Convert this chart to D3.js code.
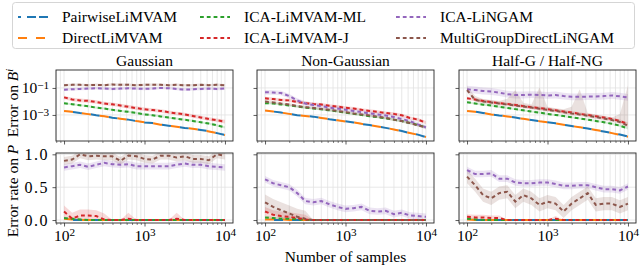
<!DOCTYPE html>
<html>
<head>
<meta charset="utf-8">
<script src="https://cdn.jsdelivr.net/npm/d3@7"></script>
<style>
	body { margin: 0; background: #ffffff; }
	text { font-family: "Liberation Serif", "DejaVu Serif", serif; fill: #000; }
</style>
</head>
<body>
<div id="chart"></div>
<script>
//Data

// x axis: number of samples (shared by every panel)
const samples = [100, 126, 158, 200, 251, 316, 398, 501, 631, 794, 1000, 1259, 1585, 1995, 2512, 3162, 3981, 5012, 6310, 7943, 10000]
const methods = ["PairwiseLiMVAM", "DirectLiMVAM", "ICA-LiMVAM-ML", "ICA-LiMVAM-J", "ICA-LiNGAM", "MultiGroupDirectLiNGAM"]
const settings = ["Gaussian", "Non-Gaussian", "Half-G / Half-NG"]
const xTicks = [100, 1000, 10000]
const xTickExp = ["2", "3", "4"]
const yTicksB = [1e-1, 1e-3]
const yTickExpB = ["\u22121", "\u22123"]
const yTicksP = [0, 0.5, 1]
const yTickLabelsP = ["0.0", "0.5", "1.0"]

// Error on B^i, Gaussian
const gaussB_Pairwise = [2.1e-3, 1.7e-3, 1.4e-3, 1.2e-3, 9.5e-4, 7.9e-4, 6.3e-4, 5.2e-4, 4.5e-4, 3.5e-4, 2.8e-4, 2.5e-4, 1.9e-4, 1.6e-4, 1.35e-4, 1.1e-4, 9.3e-5, 7.6e-5, 6.3e-5, 4.5e-5, 3.3e-5]
const gaussB_Direct = [2.0e-3, 1.7e-3, 1.4e-3, 1.15e-3, 9.5e-4, 8.0e-4, 6.3e-4, 5.3e-4, 4.4e-4, 3.5e-4, 2.9e-4, 2.5e-4, 1.9e-4, 1.6e-4, 1.35e-4, 1.1e-4, 9.5e-5, 7.5e-5, 6.0e-5, 4.6e-5, 3.2e-5]
const gaussB_ML = [7.4e-3, 6.2e-3, 5.2e-3, 4.4e-3, 3.5e-3, 3.0e-3, 2.4e-3, 2.0e-3, 1.7e-3, 1.4e-3, 1.1e-3, 9.5e-4, 7.8e-4, 6.4e-4, 5.3e-4, 4.4e-4, 3.6e-4, 2.9e-4, 2.3e-4, 1.7e-4, 1.2e-4]
const gaussB_J = [2.0e-2, 1.4e-2, 1.2e-2, 1.1e-2, 9.0e-3, 7.0e-3, 6.2e-3, 5.0e-3, 4.0e-3, 3.2e-3, 2.6e-3, 2.3e-3, 2.0e-3, 1.6e-3, 1.3e-3, 1.1e-3, 8.5e-4, 6.5e-4, 5.0e-4, 4.0e-4, 3.2e-4]
const gaussB_LiNGAM = [0.075, 0.08, 0.085, 0.09, 0.095, 0.09, 0.085, 0.09, 0.095, 0.09, 0.085, 0.09, 0.1, 0.095, 0.085, 0.075, 0.08, 0.085, 0.09, 0.085, 0.09]
const gaussB_MultiGroup = [0.16, 0.17, 0.17, 0.16, 0.17, 0.16, 0.18, 0.17, 0.17, 0.16, 0.17, 0.17, 0.17, 0.16, 0.17, 0.16, 0.16, 0.17, 0.16, 0.17, 0.16]

// Error on B^i, Non-Gaussian
const nongaussB_Pairwise = [2.1e-3, 1.8e-3, 1.5e-3, 1.2e-3, 9.5e-4, 8.5e-4, 7.5e-4, 6.0e-4, 4.8e-4, 4.0e-4, 3.4e-4, 2.8e-4, 2.1e-4, 1.8e-4, 1.4e-4, 1.1e-4, 8.5e-5, 6.5e-5, 4.5e-5, 3.5e-5, 2.3e-5]
const nongaussB_Direct = [2.1e-3, 1.8e-3, 1.5e-3, 1.2e-3, 9.8e-4, 8.5e-4, 7.3e-4, 6.0e-4, 4.9e-4, 4.0e-4, 3.3e-4, 2.8e-4, 2.2e-4, 1.8e-4, 1.4e-4, 1.1e-4, 8.5e-5, 6.3e-5, 4.6e-5, 3.4e-5, 2.3e-5]
const nongaussB_ML = [7.5e-3, 7.0e-3, 6.0e-3, 5.0e-3, 4.2e-3, 3.5e-3, 3.0e-3, 2.6e-3, 2.2e-3, 1.8e-3, 1.5e-3, 1.2e-3, 1.0e-3, 8.0e-4, 6.8e-4, 5.5e-4, 4.5e-4, 3.5e-4, 2.5e-4, 1.8e-4, 1.2e-4]
const nongaussB_J = [1.7e-2, 1.5e-2, 1.3e-2, 1.2e-2, 9.0e-3, 7.5e-3, 6.5e-3, 6.0e-3, 4.8e-3, 4.2e-3, 3.4e-3, 3.0e-3, 2.4e-3, 2.0e-3, 1.7e-3, 1.4e-3, 1.2e-3, 9.5e-4, 6.0e-4, 4.5e-4, 2.7e-4]
const nongaussB_LiNGAM = [4.8e-2, 4.6e-2, 4.2e-2, 2.5e-2, 1.2e-2, 7.0e-3, 5.5e-3, 4.5e-3, 3.5e-3, 3.0e-3, 2.4e-3, 2.0e-3, 1.6e-3, 1.3e-3, 1.1e-3, 9.0e-4, 7.0e-4, 5.0e-4, 3.5e-4, 2.0e-4, 1.2e-4]
const nongaussB_MultiGroup = [9.8e-3, 8.5e-3, 7.0e-3, 6.0e-3, 4.5e-3, 3.8e-3, 3.3e-3, 2.8e-3, 2.4e-3, 2.0e-3, 1.6e-3, 1.3e-3, 1.1e-3, 9.0e-4, 7.5e-4, 6.0e-4, 4.5e-4, 3.5e-4, 2.5e-4, 1.7e-4, 1.2e-4]

// Error on B^i, Half-G / Half-NG
const halfB_Pairwise = [2.0e-3, 1.8e-3, 1.4e-3, 1.1e-3, 9.0e-4, 8.0e-4, 6.5e-4, 5.0e-4, 4.2e-4, 3.5e-4, 2.9e-4, 2.4e-4, 1.9e-4, 1.5e-4, 1.2e-4, 1.0e-4, 7.5e-5, 6.0e-5, 4.5e-5, 3.5e-5, 2.5e-5]
const halfB_Direct = [2.0e-3, 1.7e-3, 1.4e-3, 1.1e-3, 9.2e-4, 7.8e-4, 6.3e-4, 5.2e-4, 4.2e-4, 3.4e-4, 2.9e-4, 2.4e-4, 1.9e-4, 1.5e-4, 1.25e-4, 9.8e-5, 7.8e-5, 6.0e-5, 4.5e-5, 3.4e-5, 2.4e-5]
const halfB_ML = [8.7e-3, 7.0e-3, 5.8e-3, 5.0e-3, 4.0e-3, 3.3e-3, 2.7e-3, 2.2e-3, 1.8e-3, 1.5e-3, 1.2e-3, 1.0e-3, 8.2e-4, 6.8e-4, 5.5e-4, 4.5e-4, 3.6e-4, 2.9e-4, 2.2e-4, 1.6e-4, 1.0e-4]
const halfB_J = [1.7e-2, 1.4e-2, 1.1e-2, 9.0e-3, 7.5e-3, 6.5e-3, 5.5e-3, 4.5e-3, 3.8e-3, 3.2e-3, 2.7e-3, 2.2e-3, 1.8e-3, 1.5e-3, 1.2e-3, 1.0e-3, 8.0e-4, 6.5e-4, 5.0e-4, 3.5e-4, 2.1e-4]
const halfB_LiNGAM = [8.0e-2, 7.0e-2, 6.0e-2, 5.5e-2, 4.5e-2, 3.5e-2, 3.0e-2, 3.0e-2, 3.2e-2, 3.0e-2, 2.8e-2, 3.0e-2, 2.5e-2, 2.2e-2, 2.2e-2, 2.3e-2, 2.3e-2, 2.5e-2, 2.8e-2, 2.4e-2, 2.0e-2]
const halfB_MultiGroup = [7.0e-2, 1.3e-2, 1.0e-2, 8.5e-3, 7.0e-3, 6.0e-3, 5.0e-3, 4.2e-3, 3.5e-3, 2.9e-3, 2.4e-3, 2.0e-3, 1.6e-3, 1.3e-3, 1.1e-3, 8.8e-4, 7.0e-4, 5.5e-4, 4.2e-4, 3.0e-4, 1.6e-4]
// upper edge of the MultiGroup band in Half-G (it has a few big spikes)
const halfB_MultiGroupHigh = [1.3e-1, 2.5e-2, 1.5e-2, 1.3e-2, 1.1e-2, 1.6e-2, 7.0e-2, 8.0e-3, 6.0e-3, 1.1e-1, 4.0e-3, 3.2e-3, 2.6e-3, 4.0e-3, 8.0e-2, 1.4e-3, 1.1e-3, 8.5e-4, 6.5e-4, 1.2e-3, 1.5e-1]

// Error rate on P, Gaussian
const gaussP_Pairwise = [0, 0, 0, 0, 0, 0, 0, 0, 0, 0, 0, 0, 0, 0, 0, 0, 0, 0, 0, 0, 0]
const gaussP_Direct = [0.02, 0.01, 0, 0, 0, 0, 0, 0, 0, 0, 0, 0, 0, 0, 0, 0, 0, 0, 0, 0, 0]
const gaussP_ML = [0.03, 0.02, 0.01, 0, 0, 0, 0, 0, 0, 0, 0, 0, 0, 0, 0, 0, 0, 0, 0, 0, 0]
const gaussP_J = [0.13, 0.02, 0.07, 0.07, 0.06, 0.01, 0, 0, 0.02, 0, 0, 0, 0, 0, 0.02, 0, 0, 0, 0, 0, 0]
const gaussP_LiNGAM = [0.8, 0.82, 0.84, 0.81, 0.84, 0.87, 0.85, 0.84, 0.85, 0.82, 0.82, 0.82, 0.82, 0.82, 0.84, 0.86, 0.84, 0.84, 0.82, 0.81, 0.8]
const gaussP_MultiGroup = [0.9, 0.92, 1.0, 0.97, 0.98, 0.97, 0.97, 0.9, 0.98, 0.97, 0.93, 0.92, 0.98, 0.98, 0.95, 0.97, 0.93, 0.93, 0.91, 1.0, 0.98]

// Error rate on P, Non-Gaussian
const nongaussP_Pairwise = [0, 0, 0, 0, 0, 0, 0, 0, 0, 0, 0, 0, 0, 0, 0, 0, 0, 0, 0, 0, 0]
const nongaussP_Direct = [0.01, 0.01, 0.01, 0, 0, 0, 0, 0, 0, 0, 0, 0, 0, 0, 0, 0, 0, 0, 0, 0, 0]
const nongaussP_ML = [0.04, 0.03, 0.02, 0.02, 0.01, 0, 0, 0, 0, 0, 0, 0, 0, 0, 0, 0, 0, 0, 0, 0, 0]
const nongaussP_J = [0.13, 0.08, 0.06, 0.05, 0.03, 0.01, 0, 0, 0, 0, 0, 0, 0, 0, 0, 0, 0, 0, 0, 0, 0]
const nongaussP_LiNGAM = [0.62, 0.56, 0.53, 0.5, 0.41, 0.29, 0.27, 0.29, 0.24, 0.2, 0.17, 0.18, 0.2, 0.14, 0.13, 0.14, 0.09, 0.11, 0.07, 0.06, 0.05]
const nongaussP_MultiGroup = [0.27, 0.2, 0.15, 0.1, 0.05, 0.02, 0, 0, 0, 0, 0, 0, 0, 0, 0, 0, 0, 0, 0, 0, 0]

// Error rate on P, Half-G / Half-NG
const halfP_Pairwise = [0, 0, 0, 0, 0, 0, 0, 0, 0, 0, 0, 0, 0, 0, 0, 0, 0, 0, 0, 0, 0]
const halfP_Direct = [0.01, 0, 0, 0, 0, 0, 0, 0, 0, 0, 0, 0, 0, 0, 0, 0, 0, 0, 0, 0, 0]
const halfP_ML = [0.02, 0.01, 0, 0, 0, 0, 0, 0, 0, 0, 0, 0, 0, 0, 0, 0, 0, 0, 0, 0, 0]
const halfP_J = [0.05, 0.04, 0.04, 0.03, 0.03, 0, 0, 0, 0, 0, 0, 0.02, 0, 0, 0, 0, 0, 0, 0, 0, 0]
const halfP_LiNGAM = [0.76, 0.7, 0.7, 0.71, 0.63, 0.63, 0.57, 0.56, 0.56, 0.57, 0.57, 0.55, 0.52, 0.52, 0.53, 0.53, 0.5, 0.47, 0.47, 0.45, 0.51]
const halfP_MultiGroup = [0.66, 0.53, 0.38, 0.33, 0.41, 0.43, 0.28, 0.38, 0.33, 0.23, 0.28, 0.25, 0.13, 0.25, 0.33, 0.41, 0.23, 0.25, 0.25, 0.2, 0.25]

// spread of the shaded bands (factor on the log rows, +/- on the P rows), one per method
const spreadB_gauss = [1.1, 1.1, 1.2, 1.35, 1.25, 1.25]
const spreadB_nongauss = [1.1, 1.1, 1.2, 1.3, 1.45, 1.25]
const spreadB_half = [1.1, 1.1, 1.2, 1.3, 1.8, 1.4]
const spreadP_gauss = [0, 0.01, 0.02, 0.09, 0.05, 0.06]
const spreadP_nongauss = [0, 0.01, 0.02, 0.07, 0.05, 0.12]
const spreadP_half = [0, 0, 0.02, 0.04, 0.05, 0.1]


// Represents the global variable for the chart
let store = {}

/**
 * Sets up the sizes, scales domains and line styles
 */
function makeConfig(store) {
	store.dimensions = {
		width: 640,
		height: 265,
		cols: [56, 257, 459],
		rows: [70, 153],
		panelWidth: 177,
		panelHeight: [71, 70]
	}
	store.xDomain = [Math.pow(10, 1.9), Math.pow(10, 4.1)]
	store.bDomain = [Math.pow(10, -4.93), Math.pow(10, 0.33)]
	store.pDomain = [-0.045, 1.02]
	store.colors = ['#1f77b4', '#ff7f0e', '#2ca02c', '#d62728', '#9467bd', '#8c564b']
	store.dashes = ['9,9', '9,9', '3.8,3', '3.8,3', '3.8,3', '3.8,3']
	store.dashOffsets = [9, 0, 0, 0, 0, 0]
	store.tables = {
		B: [
			[gaussB_Pairwise, gaussB_Direct, gaussB_ML, gaussB_J, gaussB_LiNGAM, gaussB_MultiGroup],
			[nongaussB_Pairwise, nongaussB_Direct, nongaussB_ML, nongaussB_J, nongaussB_LiNGAM, nongaussB_MultiGroup],
			[halfB_Pairwise, halfB_Direct, halfB_ML, halfB_J, halfB_LiNGAM, halfB_MultiGroup]
		],
		P: [
			[gaussP_Pairwise, gaussP_Direct, gaussP_ML, gaussP_J, gaussP_LiNGAM, gaussP_MultiGroup],
			[nongaussP_Pairwise, nongaussP_Direct, nongaussP_ML, nongaussP_J, nongaussP_LiNGAM, nongaussP_MultiGroup],
			[halfP_Pairwise, halfP_Direct, halfP_ML, halfP_J, halfP_LiNGAM, halfP_MultiGroup]
		],
		spreadB: [spreadB_gauss, spreadB_nongauss, spreadB_half],
		spreadP: [spreadP_gauss, spreadP_nongauss, spreadP_half]
	}
	return store
}

/**
 * Writes "base^exp" into a text element with a raised tspan
 */
function powerLabel(text, base, exp) {
	text.text(null)
	text.append('tspan').text(base)
	text.append('tspan')
		.attr('dy', '-0.42em')
		.attr('font-size', '0.72em')
		.text(exp)
}

/**
 * Builds the points of one series, with the low and high edge of its band
 */
function seriesPoints(row, col, m) {
	const values = row === 0 ? store.tables.B[col][m] : store.tables.P[col][m]
	return samples.map((s, i) => {
		const v = values[i]
		if (row === 0) {
			const f = store.tables.spreadB[col][m]
			let hi = v * f
			if (col === 2 && m === 5) hi = halfB_MultiGroupHigh[i]
			return { s: s, v: v, lo: v / f, hi: hi }
		}
		const w = v > 0 ? store.tables.spreadP[col][m] : 0
		return { s: s, v: v, lo: Math.max(0, v - w), hi: v + w }
	})
}

/**
 * Draws one panel of the grid
 */
function makePanel(svg, row, col) {
	const dims = store.dimensions
	const left = dims.cols[col]
	const top = dims.rows[row]
	const w = dims.panelWidth
	const h = dims.panelHeight[row]

	const xScale = d3.scaleLog()
		.domain(store.xDomain)
		.range([left, left + w])
	const yScale = row === 0
		? d3.scaleLog().domain(store.bDomain).range([top + h, top])
		: d3.scaleLinear().domain(store.pDomain).range([top + h, top])
	const yTicks = row === 0 ? yTicksB : yTicksP

	const panel = svg.append('g')

	// Clip for bands and lines
	const clipId = `clip-${row}-${col}`
	panel.append('clipPath').attr('id', clipId)
		.append('rect')
		.attr('x', left).attr('y', top)
		.attr('width', w).attr('height', h)

	// Grid (major and minor on x, major on y)
	panel.append('g').selectAll('line')
		.data(xScale.ticks())
		.join('line')
		.attr('x1', (d) => xScale(d))
		.attr('x2', (d) => xScale(d))
		.attr('y1', top)
		.attr('y2', top + h)
		.attr('stroke', '#e2e2e2')
		.attr('stroke-width', 0.8)
	panel.append('g').selectAll('line')
		.data(yTicks)
		.join('line')
		.attr('x1', left)
		.attr('x2', left + w)
		.attr('y1', (d) => yScale(d))
		.attr('y2', (d) => yScale(d))
		.attr('stroke', '#e2e2e2')
		.attr('stroke-width', 0.8)

	// Bands
	const body = panel.append('g').attr('clip-path', `url(#${clipId})`)
	const area = d3.area()
		.x((d) => xScale(d.s))
		.y0((d) => yScale(d.lo))
		.y1((d) => yScale(d.hi))
	const line = d3.line()
		.x((d) => xScale(d.s))
		.y((d) => yScale(d.v))
	const series = methods.map((m, i) => seriesPoints(row, col, i))

	body.append('g').selectAll('path')
		.data(series)
		.join('path')
		.attr('d', area)
		.attr('fill', (d, i) => store.colors[i])
		.attr('opacity', 0.18)

	// Lines
	body.append('g').selectAll('path')
		.data(series)
		.join('path')
		.attr('d', line)
		.attr('fill', 'none')
		.attr('stroke', (d, i) => store.colors[i])
		.attr('stroke-width', 2)
		.attr('stroke-dasharray', (d, i) => store.dashes[i])
		.attr('stroke-dashoffset', (d, i) => store.dashOffsets[i])

	// X axis (labels only on the bottom row)
	const xAxis = d3.axisBottom(xScale)
		.tickValues(xTicks)
		.tickSize(3.5)
		.tickPadding(3.5)
	const xAxisGroup = panel.append('g')
		.attr('transform', `translate(0, ${top + h})`)
		.call(xAxis)
	const minorX = xScale.ticks().filter((d) => xTicks.indexOf(d) < 0)
	panel.append('g')
		.attr('transform', `translate(0, ${top + h})`)
		.call(d3.axisBottom(xScale).tickValues(minorX).tickSize(2).tickFormat(''))
		.call((g) => g.select('.domain').remove())
		.selectAll('line').attr('stroke', '#333').attr('stroke-width', 0.6)
	xAxisGroup.select('.domain').remove()
	xAxisGroup.selectAll('line').attr('stroke', '#333').attr('stroke-width', 0.8)
	xAxisGroup.selectAll('text')
		.attr('font-size', '15.5px')
		.attr('font-family', '"Liberation Serif", serif')
		.each(function (d, i) {
			if (row === 1) powerLabel(d3.select(this), '10', xTickExp[i])
			else d3.select(this).remove()
		})

	// Y axis (labels only on the left column)
	const yAxis = d3.axisLeft(yScale)
		.tickValues(yTicks)
		.tickSize(3.5)
		.tickPadding(3.5)
	const yAxisGroup = panel.append('g')
		.attr('transform', `translate(${left}, 0)`)
		.call(yAxis)
	yAxisGroup.select('.domain').remove()
	yAxisGroup.selectAll('line').attr('stroke', '#333').attr('stroke-width', 0.8)
	yAxisGroup.selectAll('text')
		.attr('font-size', '15.5px')
		.attr('font-family', '"Liberation Serif", serif')
		.each(function (d, i) {
			if (col !== 0) d3.select(this).remove()
			else if (row === 0) powerLabel(d3.select(this), '10', yTickExpB[i])
			else {
				d3.select(this)
					.attr('font-size', '16px')
					.attr('letter-spacing', '1.5px')
					.text(yTickLabelsP[i])
			}
		})

	// Frame
	panel.append('rect')
		.attr('x', left)
		.attr('y', top)
		.attr('width', w)
		.attr('height', h)
		.attr('fill', 'none')
		.attr('stroke', '#262626')
		.attr('stroke-width', 0.9)

	// Title
	if (row === 0) {
		panel.append('text')
			.attr('x', left + w / 2)
			.attr('y', top - 4)
			.attr('font-size', '15.5px')
			.attr('text-anchor', 'middle')
			.text(settings[col])
	}
}

/**
 * Legend box on top, three columns of two entries
 */
function makeLegend(svg) {
	const legend = svg.append('g')
	legend.append('rect')
		.attr('x', 12.5)
		.attr('y', 2.5)
		.attr('width', 622)
		.attr('height', 46)
		.attr('rx', 3)
		.attr('fill', 'white')
		.attr('stroke', '#d0d0d0')
		.attr('stroke-width', 0.9)

	const colX = [18, 200, 396]
	const rowY = [17, 38]
	methods.forEach((m, i) => {
		const x = colX[Math.floor(i / 2)]
		const y = rowY[i % 2]
		legend.append('line')
			.attr('x1', x)
			.attr('x2', x + 30)
			.attr('y1', y)
			.attr('y2', y)
			.attr('stroke', store.colors[i])
			.attr('stroke-width', 2)
			.attr('stroke-dasharray', i === 0 ? '3,6,9,3,9' : store.dashes[i])
		legend.append('text')
			.attr('x', x + 44)
			.attr('y', y)
			.attr('dy', '0.33em')
			.attr('font-size', '15.5px')
			.text(m)
	})
}

/**
 * Makes the whole figure
 */
function makePlot(store) {
	const svg = d3.select('#chart')
		.append('svg')
		.attr('width', store.dimensions.width)
		.attr('height', store.dimensions.height)

	makeLegend(svg)
	for (let row = 0; row < 2; row++) {
		for (let col = 0; col < 3; col++) {
			makePanel(svg, row, col)
		}
	}

	// Y labels
	const yLabelB = svg.append('text')
		.attr('transform', 'translate(13, 103) rotate(-90)')
		.attr('text-anchor', 'middle')
		.attr('dy', '0.35em')
		.attr('font-size', '15.5px')
	yLabelB.append('tspan').text('Error on ')
	yLabelB.append('tspan').attr('font-style', 'italic').text('B')
	yLabelB.append('tspan').attr('font-style', 'italic').attr('font-size', '10.5px').attr('dy', '-0.5em').text('i')

	const yLabelP = svg.append('text')
		.attr('transform', 'translate(13, 191) rotate(-90)')
		.attr('text-anchor', 'middle')
		.attr('dy', '0.35em')
		.attr('font-size', '15.5px')
	yLabelP.append('tspan').text('Error rate on ')
	yLabelP.append('tspan').attr('font-style', 'italic').text('P')

	// X label
	svg.append('text')
		.attr('x', store.dimensions.cols[1] + store.dimensions.panelWidth / 2)
		.attr('y', 262)
		.attr('font-size', '15.5px')
		.attr('text-anchor', 'middle')
		.text('Number of samples')
}

store = makeConfig(store)
makePlot(store)
</script>
</body>
</html>
